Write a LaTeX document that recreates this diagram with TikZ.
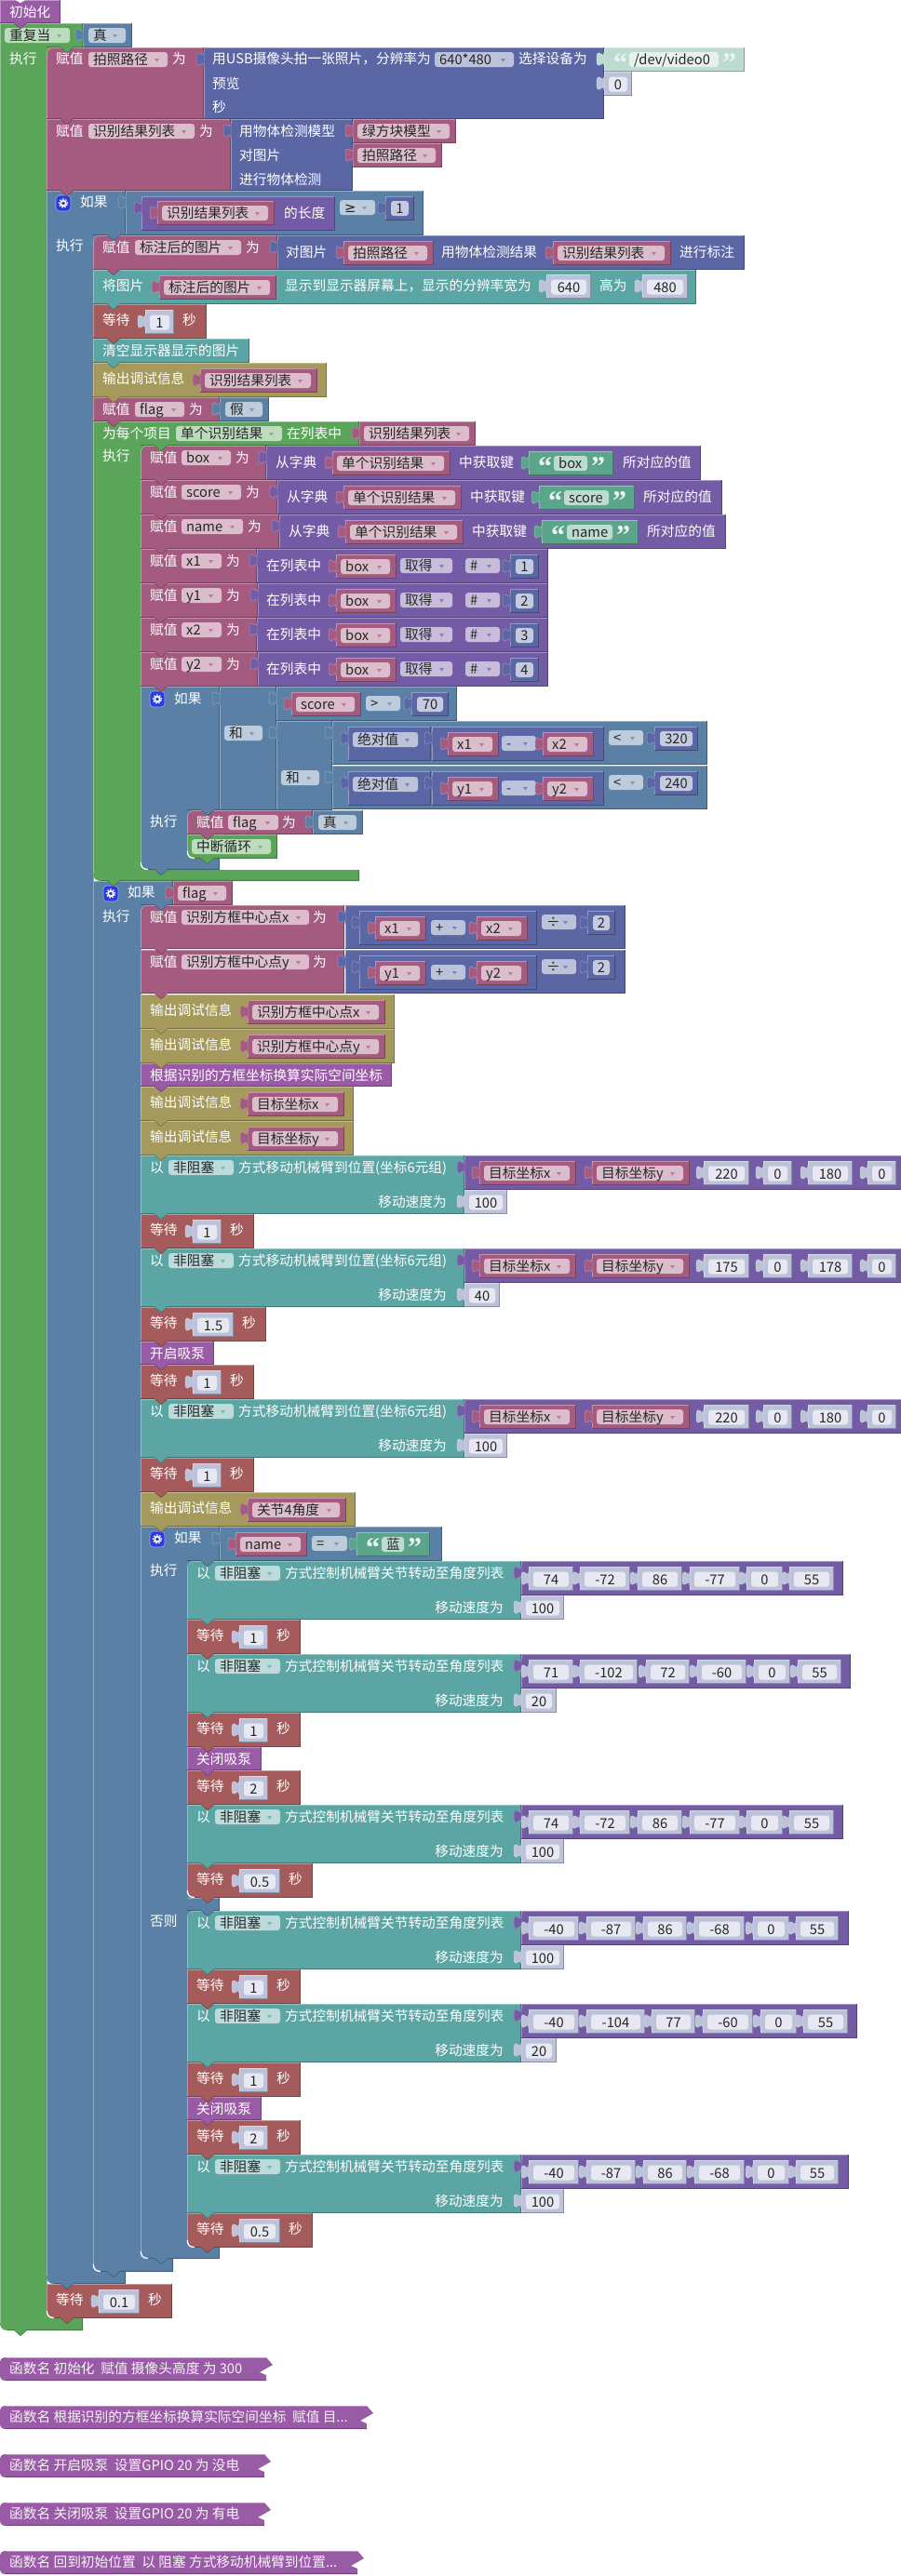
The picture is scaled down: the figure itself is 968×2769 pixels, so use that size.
\documentclass[tikz,border=0pt]{standalone}
\usepackage{fontspec}
\setmainfont{Noto Sans CJK SC}
\newfontfamily\qfont{Liberation Serif}
\newfontfamily\symfont{DejaVu Sans}
\definecolor{procc}{HTML}{995BA5}
\definecolor{loopc}{HTML}{5BA55B}
\definecolor{logicc}{HTML}{5B80A5}
\definecolor{varc}{HTML}{A55B80}
\definecolor{mathc}{HTML}{5B67A5}
\definecolor{textc}{HTML}{5BA58C}
\definecolor{listc}{HTML}{745BA5}
\definecolor{tealc}{HTML}{5BA5A5}
\definecolor{waitc}{HTML}{A55B5B}
\definecolor{dbgc}{HTML}{A5995B}
\definecolor{gearc}{HTML}{2A3CDC}
\pgfdeclarelayer{teeth}\pgfsetlayers{main,teeth}
\newcounter{nid}
\tikzset{
  lbl/.style={anchor=base west,inner sep=0pt,text=white,font=\fontsize{14.7}{16}\selectfont},
  lble/.style={anchor=base east,inner sep=0pt,text=white,font=\fontsize{14.7}{16}\selectfont},
  fldt/.style={anchor=base west,inner sep=0pt,text=black!85,font=\fontsize{14.7}{16}\selectfont},
  numt/.style={anchor=base,inner sep=0pt,text=black!85,font=\fontsize{14.7}{16}\selectfont},
  funt/.style={anchor=base west,inner sep=0pt,text=white!92!procc,font=\fontsize{14.7}{16}\selectfont},
  quot/.style={anchor=base west,inner sep=0pt,text=white!88!textc,font=\qfont\bfseries\fontsize{30}{30}\selectfont},
  fldbox/.style={rounded corners=3pt},
}
% --- primitives
\newcommand\xRect[5]{%
  \fill[#1] (#2,#3) rectangle (#4,#5);
  \draw[#1!65!white,line width=.7pt] (#2+.4,#5) -- (#2+.4,#3+.4) -- (#4,#3+.4);
  \draw[#1!72!black,line width=.7pt] (#4-.4,#3) -- (#4-.4,#5-.4) -- (#2,#5-.4);}
\newcommand\xTooth[3]{%
  \begin{pgfonlayer}{teeth}
  \fill[#1] (#2+15,#3-.8) -- (#2+20,#3+4) .. controls (#2+22,#3+6) .. (#2+24,#3+4) -- (#2+29,#3-.8) -- cycle;
  \draw[#1!72!black,line width=.6pt] (#2+15,#3-.4) -- (#2+20,#3+4) .. controls (#2+22,#3+6) .. (#2+24,#3+4) -- (#2+29,#3-.4);
  \end{pgfonlayer}}
\newcommand\xStmt[5]{\xRect{#1}{#2}{#3}{#4}{#5}\xTooth{#1}{#2}{#5}}
\newcommand\xTab[3]{%
  \fill[#1] (#2+.6,#3+5) -- (#2,#3+5) .. controls (#2,#3+15) and (#2-8,#3-3) .. (#2-8,#3+12.5) .. controls (#2-8,#3+28) and (#2,#3+10) .. (#2,#3+20) -- (#2+.6,#3+20) -- cycle;
  \draw[#1!70!white,line width=.5pt] (#2,#3+5) .. controls (#2,#3+15) and (#2-8,#3-3) .. (#2-8,#3+12.5) .. controls (#2-8,#3+28) and (#2,#3+10) .. (#2,#3+20);}
\newcommand\xVal[5]{\xRect{#1}{#2}{#3}{#4}{#5}\xTab{#1}{#2}{#3}}
\newcommand\xLab[3]{\stepcounter{nid}\node[lbl] (n\arabic{nid}) at (#1,#2+5.5) {#3};}
\newcommand\xLabE[3]{\stepcounter{nid}\node[lble] (n\arabic{nid}) at (#1,#2+5.5) {#3};}
\newcommand\xDd[5]{% color x1 y x2 text
  \fill[#1!40!white,fldbox] (#2,#3) rectangle (#4,#3+16);
  \fill[#1!80!white] (#4-14,#3+7) -- (#4-9,#3+7) -- (#4-11.5,#3+10.5) -- cycle;
  \stepcounter{nid}\node[fldt] (n\arabic{nid}) at (#2+5,#3+13.5) {#5};}
\newcommand\xVar[4]{% x y w text
  \xVal{varc}{#1}{#2}{#1+#3}{#2+26}\xDd{varc}{#1+5}{#2+5}{#1+#3-7}{#4}}
\newcommand\xNumS[4]{% x y w text
  \xVal{mathc!40!white}{#1}{#2}{#1+#3}{#2+26}
  \fill[mathc!15!white,fldbox] (#1+5,#2+5.5) rectangle (#1+#3-5,#2+21.5);
  \stepcounter{nid}\node[numt] (n\arabic{nid}) at (#1+#3/2,#2+19) {#4};}
\newcommand\xNumD[4]{%
  \xVal{mathc}{#1}{#2}{#1+#3}{#2+26}
  \fill[mathc!35!white,fldbox] (#1+6,#2+5) rectangle (#1+#3-6,#2+21);
  \stepcounter{nid}\node[numt] (n\arabic{nid}) at (#1+#3/2,#2+18.5) {#4};}
\newcommand\xStrB[6]{% fill fieldfill x y fieldw text
  \xVal{#1}{#3}{#4}{#3+27+#5+28}{#4+26}
  \fill[#2,fldbox] (#3+27,#4+5) rectangle (#3+27+#5,#4+21);
  \stepcounter{nid}\node[fldt] (n\arabic{nid}) at (#3+32,#4+18.5) {#6};
  \stepcounter{nid}\node[quot] (n\arabic{nid}) at (#3+10,#4+26) {“};
  \stepcounter{nid}\node[quot] (n\arabic{nid}) at (#3+27+#5+4,#4+26) {”};}
\newcommand\xStrD[4]{\xStrB{textc}{textc!40!white}{#1}{#2}{#3}{#4}}
\newcommand\xStrS[4]{\xStrB{textc!40!white}{textc!15!white}{#1}{#2}{#3}{#4}}
\newcommand\xLog[4]{% x1 y x2 text
  \xVal{logicc}{#1}{#2}{#3}{#2+26}\xDd{logicc}{#1+6}{#2+5}{#3-7}{#4}}
\newcommand\xC[8]{% color x xa xhr ytop yhb yft ybot
  \fill[#1] (#2,#5) -- (#4,#5) -- (#4,#6) -- (#3,#6) -- (#3,#7) -- (#4,#7) -- (#4,#8) -- (#2+8,#8) .. controls (#2+3,#8) and (#2,#8-3) .. (#2,#8-8) -- cycle;
  \draw[#1!65!white,line width=.7pt] (#2+.4,#8-8) -- (#2+.4,#5+.4) -- (#4,#5+.4);
  \draw[#1!65!white,line width=.7pt] (#3,#6) -- (#3,#7);
  \draw[#1!72!black,line width=.7pt] (#4-.4,#5) -- (#4-.4,#6-.4) -- (#3,#6-.4);
  \draw[#1!72!black,line width=.7pt] (#4-.4,#7) -- (#4-.4,#8-.4) -- (#2+8,#8-.4);
  \xTooth{#1}{#3}{#6}
  \xTooth{#1}{#2}{#8}}
\newcommand\xTL[3]{% parent x y : rounded first-statement corner
  \begin{pgfonlayer}{teeth}
  \fill[#1] (#2,#3) -- (#2+8,#3) .. controls (#2+3,#3) and (#2,#3+3) .. (#2,#3+8) -- cycle;
  \draw[#1!65!white,line width=.7pt] (#2+8,#3+.2) .. controls (#2+3,#3+.2) and (#2+.2,#3+3) .. (#2+.2,#3+8);
  \end{pgfonlayer}}
\newcommand\xBL[3]{% parent x y : rounded last-statement corner
  \begin{pgfonlayer}{teeth}
  \fill[#1] (#2,#3) -- (#2+8,#3) .. controls (#2+3,#3) and (#2,#3-3) .. (#2,#3-8) -- cycle;
  \draw[white,line width=1.3pt] (#2+.3,#3-8) .. controls (#2+.3,#3-3) and (#2+3,#3-.5) .. (#2+8,#3-.5);
  \end{pgfonlayer}}
\newcommand\xGear[2]{%
  \fill[gearc,rounded corners=4pt] (#1,#2) rectangle (#1+16,#2+17);
  \draw[gearc!45!white,rounded corners=4pt,line width=.6pt] (#1,#2) rectangle (#1+16,#2+17);
  \draw[white,line width=1.7pt] (#1+8,#2+8.5) circle (2.8pt);
  \draw[white,line width=1.2pt,dash pattern=on 1.6pt off 1.6pt] (#1+8,#2+8.5) circle (4.6pt);}
% --- composite blocks
\newcommand\xWait[4]{% x y w text
  \xStmt{waitc}{#1}{#2}{#1+#3+91}{#2+37}
  \xLab{#1+10}{#2+17}{等待}
  \xNumS{#1+56}{#2+6}{#3}{#4}
  \xLab{#1+56+#3+9}{#2+17}{秒}}
\newcommand\xPrint[4]{% x y right name
  \xStmt{dbgc}{#1}{#2}{#3}{#2+37}
  \xLab{#1+10}{#2+17}{输出调试信息}
  \xVar{#1+115}{#2+6}{#3-#1-125}{#4}}
\newcommand\xDict[9]{% y xs xr fx2 name strx strw key valx
  \xStmt{varc}{151}{#1}{#2}{#1+37}
  \xLab{161}{#1+13}{赋值}
  \xDd{varc}{195}{#1+5}{#4}{#5}
  \xLab{#4+5}{#1+13}{为}
  \xVal{listc}{#2}{#1}{#3}{#1+37}
  \xLab{#2+10}{#1+18}{从字典}
  \xVar{#2+71}{#1+6}{127}{单个识别结果}
  \xLab{#2+207}{#1+18}{中获取键}
  \xStrD{#6}{#1+6}{#7}{#8}
  \xLab{#9}{#1+18}{所对应的值}}
\newcommand\xItem[5]{% y xs fx2 name n
  \xStmt{varc}{151}{#1}{#2}{#1+37}
  \xLab{161}{#1+13}{赋值}
  \xDd{varc}{195}{#1+5}{#3}{#4}
  \xLab{#3+5}{#1+13}{为}
  \xVal{listc}{#2}{#1}{589}{#1+37}
  \xLab{286}{#1+18}{在列表中}
  \xVar{361}{#1+6}{65}{box}
  \xDd{listc}{430}{#1+10}{486}{取得}
  \xDd{listc}{500}{#1+10}{537}{\#}
  \xNumD{548}{#1+6}{31}{#5}}
\newcommand\xArith[8]{% x y w opx bx op a b
  \xVal{mathc}{#1}{#2}{#1+#3}{#2+37}
  \xVar{#1+17}{#2+6}{55}{#7}
  \xDd{mathc}{#4}{#2+10}{#4+37}{#6}
  \xVar{#5}{#2+6}{55}{#8}}
\newcommand\xAbs[4]{% y a b limit
  \xVal{logicc}{357}{#1}{760}{#1+47}
  \xVal{mathc}{374}{#1+6}{463}{#1+43}
  \xDd{mathc}{379}{#1+12}{449}{绝对值}
  \xArith{464}{#1+6}{185}{539}{583}{-}{#2}{#3}
  \xDd{logicc}{654}{#1+10}{691}{<}
  \xNumD{703}{#1+6}{47}{#4}}
\newcommand\xCenter[4]{% y name a b
  \xStmt{varc}{151}{#1}{370}{#1+47}
  \xLab{161}{#1+13}{赋值}
  \xDd{varc}{195}{#1+5}{332}{#2}
  \xLab{336}{#1+13}{为}
  \xVal{mathc}{371}{#1}{672}{#1+47}
  \xArith{386}{#1+6}{191}{463}{512}{+}{#3}{#4}
  \xDd{mathc}{582}{#1+10}{619}{÷}
  \xNumD{631}{#1+6}{30}{2}}
\newcommand\xMove[7]{% y n1 n2 n3 n4 speed sw
  \xStmt{tealc}{151}{#1}{499}{#1+63}
  \xLab{161}{#1+13}{以}
  \xDd{tealc}{181}{#1+5}{251}{非阻塞}
  \xLab{256}{#1+13}{方式移动机械臂到位置(坐标6元组)}
  \xLabE{480}{#1+50}{移动速度为}
  \xVal{listc}{499}{#1}{976}{#1+37}
  \xVar{515}{#1+6}{104}{目标坐标x}
  \xVar{636}{#1+6}{105}{目标坐标y}
  \xNumS{756}{#1+6}{49}{#2}
  \xNumS{820}{#1+6}{31}{#3}
  \xNumS{868}{#1+6}{48}{#4}
  \xNumS{932}{#1+6}{31}{#5}
  \xNumS{499}{#1+37}{#7}{#6}}
\newcommand\xJoint[5]{% y right list speed sw
  \xStmt{tealc}{201}{#1}{560}{#1+63}
  \xLab{211}{#1+13}{以}
  \xDd{tealc}{231}{#1+5}{301}{非阻塞}
  \xLab{306}{#1+13}{方式控制机械臂关节转动至角度列表}
  \xLabE{541}{#1+50}{移动速度为}
  \xVal{listc}{560}{#1}{#2}{#1+37}
  \foreach \pa/\pb/\pc in {#3} {\xNumS{\pa}{#1+6}{\pb}{\pc}}
  \xNumS{560}{#1+37}{#5}{#4}}
\newcommand\xFunc[3]{% y x2 text
  \fill[procc] (6,#1) -- (#2,#1) -- (#2+7,#1+8) -- (#2-7,#1+16) -- (#2,#1+19) -- (#2,#1+25) -- (6,#1+25) .. controls (2,#1+25) and (0,#1+23) .. (0,#1+19) -- (0,#1+6) .. controls (0,#1+2) and (2,#1) .. (6,#1) -- cycle;
  \draw[procc!65!white,line width=.7pt] (6,#1+.4) -- (#2,#1+.4);
  \draw[procc!72!black,line width=.8pt] (#2,#1+24.6) -- (6,#1+24.6);
  \stepcounter{nid}\node[funt] (n\arabic{nid}) at (10,#1+17.5) {#3};}
\begin{document}
\begin{tikzpicture}[x=1pt,y=-1pt]
\useasboundingbox (0,0) rectangle (968,2769);
% root
\xStmt{procc}{0}{0}{65}{25}
\fill[white] (15,-1) -- (22,3) -- (29,-1) -- cycle;
\xLab{10}{13}{初始化}
\xC{loopc}{0}{50}{89}{25}{51}{2492}{2505}
\xDd{loopc}{5}{30}{75}{重复当}
\xLog{89}{25}{142}{真}
\xLab{10}{63}{执行}
\xTL{loopc}{50}{51}
% assign photo
\xStmt{varc}{50}{51}{219}{128}
\xLab{60}{63}{赋值}\xDd{varc}{95}{56}{180}{拍照路径}\xLab{185}{63}{为}
\xVal{mathc}{219}{51}{649}{128}
\xLab{228}{63}{用USB摄像头拍一张照片，分辨率为}
\xDd{mathc}{467}{56}{552}{640*480}
\xLab{557}{63}{选择设备为}
\xLab{228}{90}{预览}\xLab{228}{115}{秒}
\xStrS{649}{51}{96}{/dev/video0}
\xNumS{649}{77}{30}{0}
% assign result
\xStmt{varc}{50}{128}{248}{205}
\xLab{60}{141}{赋值}\xDd{varc}{95}{133}{209}{识别结果列表}\xLab{214}{141}{为}
\xVal{mathc}{248}{128}{379}{205}
\xLab{257}{141}{用物体检测模型}\xLab{257}{167}{对图片}\xLab{257}{193}{进行物体检测}
\xVar{379}{128}{111}{绿方块模型}
\xVar{379}{154}{96}{拍照路径}
% if 1
\xC{logicc}{50}{100}{135}{205}{253}{2442}{2455}
\xGear{60}{210}\xLab{86}{217}{如果}
\xVal{logicc}{135}{205}{455}{253}
\xVal{listc}{152}{211}{360}{248}
\xVar{169}{216}{126}{识别结果列表}
\xLab{305}{229}{的长度}
\xDd{logicc}{365}{215}{403}{{\symfont ≥}}
\xNumD{414}{211}{31}{1}
\xLab{60}{264}{执行}
\xTL{logicc}{100}{253}
\xStmt{varc}{100}{253}{298}{290}
\xLab{110}{266}{赋值}\xDd{varc}{145}{258}{259}{标注后的图片}\xLab{264}{266}{为}
\xVal{mathc}{298}{253}{800}{290}
\xLab{307}{271}{对图片}\xVar{369}{259}{97}{拍照路径}
\xLab{474}{271}{用物体检测结果}\xVar{594}{259}{127}{识别结果列表}
\xLab{730}{271}{进行标注}
\xStmt{tealc}{100}{290}{748}{327}
\xLab{110}{307}{将图片}\xVar{171}{296}{126}{标注后的图片}
\xLab{306}{307}{显示到显示器屏幕上，显示的分辨率宽为}
\xNumS{587}{295}{48}{640}\xLab{644}{307}{高为}\xNumS{690}{295}{49}{480}
\xWait{100}{327}{31}{1}
\xStmt{tealc}{100}{364}{268}{390}
\xLab{110}{377}{清空显示器显示的图片}
\xPrint{100}{390}{351}{识别结果列表}
\xStmt{varc}{100}{427}{236}{453}
\xLab{110}{440}{赋值}\xDd{varc}{145}{432}{198}{flag}\xLab{203}{440}{为}
\xLog{236}{427}{289}{假}
% for each
\xC{loopc}{100}{151}{386}{453}{479}{935}{947}
\xLab{110}{466}{为每个项目}\xDd{loopc}{189}{458}{303}{单个识别结果}\xLab{308}{466}{在列表中}
\xVar{386}{453}{125}{识别结果列表}
\xLab{110}{490}{执行}
\xTL{loopc}{151}{479}
\xDict{479}{286}{753}{248}{box}{568}{36}{box}{669}
\xDict{516}{298}{776}{259}{score}{579}{48}{score}{691}
\xDict{553}{300}{780}{261}{name}{582}{49}{name}{695}
\xItem{590}{276}{238}{x1}{1}
\xItem{627}{277}{238}{y1}{2}
\xItem{664}{276}{238}{x2}{3}
\xItem{701}{277}{238}{y2}{4}
% if 2
\xC{logicc}{151}{201}{236}{738}{871}{923}{935}
\xGear{161}{743}\xLab{187}{751}{如果}
\xVal{logicc}{236}{738}{297}{871}
\xDd{logicc}{241}{780}{282}{和}
\xVal{logicc}{297}{738}{491}{775}
\xVar{313}{744}{75}{score}
\xDd{logicc}{393}{748}{430}{>}
\xNumD{442}{744}{40}{70}
\xVal{logicc}{297}{775}{357}{871}
\xDd{logicc}{302}{828}{343}{和}
\xAbs{775}{x1}{x2}{320}
\xAbs{823}{y1}{y2}{240}
\xLab{161}{883}{执行}
\xTL{logicc}{201}{871}
\xStmt{varc}{201}{871}{336}{897}
\xLab{211}{884}{赋值}\xDd{varc}{245}{876}{299}{flag}\xLab{303}{884}{为}
\xLog{336}{871}{390}{真}
\xStmt{loopc}{201}{897}{298}{923}
\xDd{loopc}{206}{902}{291}{中断循环}
\xBL{logicc}{201}{923}
\xBL{loopc}{151}{935}
% if flag
\xC{logicc}{100}{151}{186}{947}{973}{2428}{2442}
\xGear{111}{952}\xLab{137}{959}{如果}
\xVar{186}{947}{64}{flag}
\xLab{110}{985}{执行}
\xTL{logicc}{151}{973}
\xCenter{973}{识别方框中心点x}{x1}{x2}
\xCenter{1021}{识别方框中心点y}{y1}{y2}
\xPrint{151}{1069}{424}{识别方框中心点x}
\xPrint{151}{1106}{424}{识别方框中心点y}
\xStmt{procc}{151}{1143}{421}{1168}
\xLab{161}{1156}{根据识别的方框坐标换算实际空间坐标}
\xPrint{151}{1168}{380}{目标坐标x}
\xPrint{151}{1205}{380}{目标坐标y}
\xMove{1242}{220}{0}{180}{0}{100}{46}
\xWait{151}{1305}{31}{1}
\xMove{1342}{175}{0}{178}{0}{40}{38}
\xWait{151}{1405}{44}{1.5}
\xStmt{procc}{151}{1442}{230}{1467}
\xLab{161}{1455}{开启吸泵}
\xWait{151}{1467}{31}{1}
\xMove{1504}{220}{0}{180}{0}{100}{46}
\xWait{151}{1567}{31}{1}
\xPrint{151}{1604}{382}{关节4角度}
% if name
\xC{logicc}{151}{201}{236}{1641}{1678}{2416}{2428}
\xRect{logicc}{151.8}{2040}{236}{2054}
\fill[logicc] (151.8,2038) rectangle (201,2056);
\xTooth{logicc}{201}{2054}
\xGear{161}{1646}\xLab{187}{1653}{如果}
\xVal{logicc}{236}{1641}{475}{1678}
\xVar{253}{1647}{77}{name}
\xDd{logicc}{335}{1651}{373}{=}
\xStrD{383}{1647}{24}{蓝}
\xLab{161}{1688}{执行}
\xTL{logicc}{201}{1678}
\xJoint{1678}{906}{568/48/74,623/54/-72,685/48/86,741/54/-77,802/39/0,848/48/55}{100}{46}
\xWait{201}{1741}{31}{1}
\xJoint{1778}{914}{568/48/71,623/62/-102,694/47/72,749/53/-60,810/39/0,857/47/55}{20}{38}
\xWait{201}{1841}{31}{1}
\xStmt{procc}{201}{1878}{281}{1903}
\xLab{211}{1891}{关闭吸泵}
\xWait{201}{1903}{31}{2}
\xJoint{1940}{906}{568/48/74,623/54/-72,685/48/86,741/54/-77,802/39/0,848/48/55}{100}{46}
\xWait{201}{2003}{44}{0.5}
\xBL{logicc}{201}{2040}
\xLab{161}{2065}{否则}
\xTL{logicc}{201}{2054}
\xJoint{2054}{912}{568/54/-40,630/53/-87,691/47/86,746/54/-68,809/39/0,855/46/55}{100}{46}
\xWait{201}{2117}{31}{1}
\xJoint{2154}{921}{568/54/-40,630/63/-104,700/47/77,755/54/-60,817/39/0,863/48/55}{20}{38}
\xWait{201}{2217}{31}{1}
\xStmt{procc}{201}{2254}{281}{2279}
\xLab{211}{2267}{关闭吸泵}
\xWait{201}{2279}{31}{2}
\xJoint{2316}{912}{568/54/-40,630/53/-87,691/47/86,746/54/-68,809/39/0,855/46/55}{100}{46}
\xWait{201}{2379}{44}{0.5}
\xBL{logicc}{201}{2416}
\xBL{logicc}{151}{2428}
\xBL{logicc}{100}{2442}
\xWait{50}{2455}{44}{0.1}
\xBL{loopc}{50}{2492}
% functions
\xFunc{2534}{286}{函数名 初始化\ \ 赋值 摄像头高度 为 300}
\xFunc{2586}{394}{函数名 根据识别的方框坐标换算实际空间坐标\ \ 赋值 目...}
\xFunc{2638}{284}{函数名 开启吸泵\ \ 设置GPIO 20 为 没电}
\xFunc{2690}{284}{函数名 关闭吸泵\ \ 设置GPIO 20 为 有电}
\xFunc{2742}{384}{函数名 回到初始位置\ \ 以 阻塞 方式移动机械臂到位置...}
\end{tikzpicture}
\end{document}
